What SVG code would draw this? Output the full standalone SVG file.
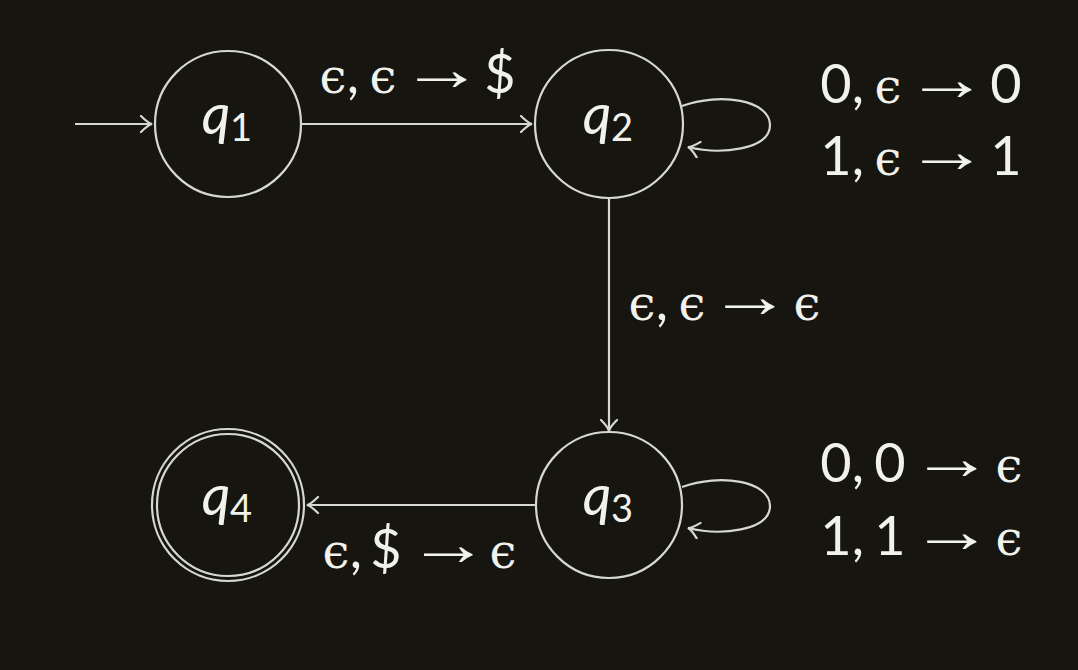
<svg xmlns="http://www.w3.org/2000/svg" width="1078" height="670" viewBox="0 0 1078 670">
<style>
.st{fill:none;stroke:#d8d8d2;stroke-width:2.2}
.L{fill:#f2f2ec;font-family:Lato,"DejaVu Sans",sans-serif;font-size:54px}
.t{font-family:Lato,"DejaVu Sans",sans-serif;font-size:54px;text-anchor:middle}
.e{font-family:"DejaVu Serif",serif;font-size:48px;text-anchor:middle}
.a{font-family:"Liberation Serif","DejaVu Serif",serif;font-size:62px;text-anchor:start}
.q{fill:#f2f2ec;font-family:Lato,"DejaVu Sans",sans-serif;font-style:italic;font-size:56px;text-anchor:middle}
.s{fill:#f2f2ec;font-family:Lato,"DejaVu Sans",sans-serif;font-size:38px;text-anchor:middle}
</style>
<defs>
<marker id="ah" viewBox="-14 -9 16 18" refX="0" refY="0" markerWidth="16" markerHeight="18" markerUnits="userSpaceOnUse" orient="auto">
<path d="M-11,-8 Q-4,-1 0,0 Q-4,1 -11,8" fill="none" stroke="#d8d8d2" stroke-width="2.2" stroke-linecap="round"/>
</marker>
</defs>
<rect width="1078" height="670" fill="#17150f"/>
<g id="connectors">
<path class="st" d="M75,124 H152" marker-end="url(#ah)"/>
<path class="st" d="M302,124 H532" marker-end="url(#ah)"/>
<path class="st" d="M609,197 V431" marker-end="url(#ah)"/>
<path class="st" d="M536,505 H307" marker-end="url(#ah)"/>
<path class="st" d="M682,106 C720,92 770,100 770,125 C770,150 720,155 688,147" marker-end="url(#ah)"/>
<path class="st" d="M682,487 C720,473 770,481 770,506 C770,531 720,536 688,528" marker-end="url(#ah)"/>
</g>
<g id="labels">
<text class="L"><tspan class="e" x="333" y="93">ϵ</tspan><tspan class="t" x="353" y="93">,</tspan><tspan class="e" x="383" y="93">ϵ</tspan><tspan class="a" x="400" y="90" textLength="83" lengthAdjust="spacingAndGlyphs">→</tspan><tspan class="t" x="500" y="93">$</tspan></text>
<text class="L"><tspan class="t" x="836" y="103">0</tspan><tspan class="t" x="858" y="103">,</tspan><tspan class="e" x="888" y="103">ϵ</tspan><tspan class="a" x="905" y="100" textLength="83" lengthAdjust="spacingAndGlyphs">→</tspan><tspan class="t" x="1006" y="103">0</tspan><tspan class="t" x="836" y="175">1</tspan><tspan class="t" x="858" y="175">,</tspan><tspan class="e" x="888" y="175">ϵ</tspan><tspan class="a" x="905" y="172" textLength="83" lengthAdjust="spacingAndGlyphs">→</tspan><tspan class="t" x="1006" y="175">1</tspan></text>
<text class="L"><tspan class="e" x="642" y="320">ϵ</tspan><tspan class="t" x="662" y="320">,</tspan><tspan class="e" x="692" y="320">ϵ</tspan><tspan class="a" x="708" y="317" textLength="83" lengthAdjust="spacingAndGlyphs">→</tspan><tspan class="e" x="807" y="320">ϵ</tspan></text>
<text class="L"><tspan class="e" x="336" y="568">ϵ</tspan><tspan class="t" x="356" y="568">,</tspan><tspan class="t" x="386" y="568">$</tspan><tspan class="a" x="407" y="565" textLength="82" lengthAdjust="spacingAndGlyphs">→</tspan><tspan class="e" x="503" y="568">ϵ</tspan></text>
<text class="L"><tspan class="t" x="836" y="482">0</tspan><tspan class="t" x="858" y="482">,</tspan><tspan class="t" x="890" y="482">0</tspan><tspan class="a" x="910" y="479" textLength="83" lengthAdjust="spacingAndGlyphs">→</tspan><tspan class="e" x="1009" y="482">ϵ</tspan><tspan class="t" x="836" y="555">1</tspan><tspan class="t" x="858" y="555">,</tspan><tspan class="t" x="890" y="555">1</tspan><tspan class="a" x="910" y="552" textLength="83" lengthAdjust="spacingAndGlyphs">→</tspan><tspan class="e" x="1009" y="555">ϵ</tspan></text>
</g>
<g id="q1"><circle class="st" cx="228" cy="124" r="73"/><text class="q" x="216" y="134">q</text><text class="s" x="241" y="141">1</text></g>
<g id="q2"><circle class="st" cx="609" cy="124" r="74"/><text class="q" x="597" y="134">q</text><text class="s" x="622" y="141">2</text></g>
<g id="q3"><circle class="st" cx="609" cy="505" r="73"/><text class="q" x="597" y="515">q</text><text class="s" x="622" y="522">3</text></g>
<g id="q4"><circle class="st" cx="228" cy="505" r="76"/><circle class="st" cx="228" cy="505" r="71"/><text class="q" x="216" y="515">q</text><text class="s" x="241" y="522">4</text></g>
</svg>
